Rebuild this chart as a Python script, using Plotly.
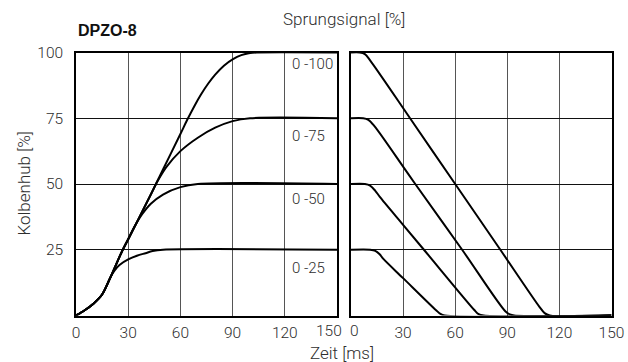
import plotly.graph_objects as go

# ---- data ----
rise_100_t = [0, 5, 10, 15, 20, 26.5, 30, 43, 50, 60, 64, 68, 72, 76, 80, 85, 90, 95, 100, 104, 150]
rise_100_y = [0, 2, 4.5, 8, 14.8, 24.5, 29, 46, 55.5, 69, 74.5, 79.6, 84.2, 88.2, 91.6, 95, 97.4, 99, 99.8, 100, 100]

rise_75_t = [0, 5, 10, 15, 20, 26.5, 30, 43, 47, 52, 60, 70, 80, 90, 100, 150]
rise_75_y = [0, 2, 4.5, 8, 14.8, 24.5, 29, 46, 51.2, 56.5, 62.5, 67.6, 71.4, 73.9, 75, 75]

rise_50_t = [0, 5, 10, 15, 20, 26.5, 30, 34, 38, 43, 50, 60, 70, 150]
rise_50_y = [0, 2, 4.5, 8, 14.8, 24.5, 29, 34.2, 38.5, 42.5, 46, 48.8, 50, 50]

rise_25_t = [0, 5, 10, 15, 19.5, 22, 25, 30, 35, 40, 44, 50, 150]
rise_25_y = [0, 2, 4.5, 8, 14.2, 17, 19.2, 21.3, 22.7, 23.7, 24.5, 25, 25]

fall_100_t = [0, 5, 8, 11, 34, 60, 86, 108.5, 111.5, 114.5, 150]
fall_100_y = [100, 100, 99.4, 97, 75, 50, 25, 3.3, 0.9, 0, 0]

fall_75_t = [0, 7, 10, 13.5, 30, 37, 64, 89, 91.5, 94, 150]
fall_75_y = [75, 75, 74.4, 72, 56.6, 50, 25, 1.5, 0.4, 0, 0]

fall_50_t = [0, 8, 11, 14, 16.6, 30, 42, 71, 73.5, 76.5, 150]
fall_50_y = [50, 50, 49.4, 47.4, 45.1, 34.5, 25, 2.1, 0.5, 0, 0]

fall_25_t = [0, 11, 14, 16.5, 18.5, 30, 49, 51.5, 54, 150]
fall_25_y = [25, 25, 24.6, 23.3, 21.6, 14.2, 2, 0.6, 0, 0]

x_ticks = [0, 30, 60, 90, 120, 150]
y_ticks = [25, 50, 75, 100]
step_labels = ["0 -100", "0 -75", "0 -50", "0 -25"]
step_label_y = [95.6, 68.2, 44.2, 17.9]

FONT = "Roboto, Liberation Sans, Arial, sans-serif"
TXT = "#2e2e2e"
WT = 300

fig = go.Figure()
line = dict(color="black", width=2, shape="spline", smoothing=0.9)
for t, y in [(rise_100_t, rise_100_y), (rise_75_t, rise_75_y),
             (rise_50_t, rise_50_y), (rise_25_t, rise_25_y)]:
    fig.add_trace(go.Scatter(x=t, y=y, mode="lines", line=line,
                             xaxis="x", yaxis="y", showlegend=False, hoverinfo="skip"))
for t, y in [(fall_100_t, fall_100_y), (fall_75_t, fall_75_y),
             (fall_50_t, fall_50_y), (fall_25_t, fall_25_y)]:
    fig.add_trace(go.Scatter(x=t, y=y, mode="lines", line=line,
                             xaxis="x2", yaxis="y2", showlegend=False, hoverinfo="skip"))

W, H = 628, 362
ydom = [(H - 315.5) / H, (H - 52.5) / H]

# the two crowded labels at the joint ("150 0") are placed as annotations
left_ticktext = [str(v) for v in x_ticks]
left_ticktext[-1] = ""
right_ticktext = [str(v) for v in x_ticks]
right_ticktext[0] = ""

tickfont = dict(family=FONT, size=15.5, color=TXT, weight=WT)
common_x = dict(range=[0, 150], tickvals=x_ticks, showgrid=True, gridcolor="#555",
                gridwidth=1, zeroline=False, showline=True, linecolor="black",
                linewidth=1.5, mirror=True, ticks="", ticklabelstandoff=2,
                automargin=False, tickfont=tickfont, fixedrange=True)
common_y = dict(range=[0, 100], tickvals=y_ticks, showgrid=True, gridcolor="#111",
                gridwidth=1, zeroline=False, showline=True, linecolor="black",
                linewidth=1.5, mirror=True, ticks="", ticklabelstandoff=8,
                automargin=False, tickfont=tickfont, fixedrange=True)

fig.update_layout(
    width=W, height=H, margin=dict(l=0, r=0, t=0, b=0, pad=0), autosize=False,
    paper_bgcolor="white", plot_bgcolor="white",
    xaxis=dict(common_x, domain=[76 / W, 337 / W], ticktext=left_ticktext, anchor="y"),
    xaxis2=dict(common_x, domain=[351 / W, 611.5 / W], ticktext=right_ticktext, anchor="y2"),
    yaxis=dict(common_y, domain=ydom, anchor="x"),
    yaxis2=dict(common_y, domain=ydom, anchor="x2", showticklabels=False),
)

ann = []
for txt, yv in zip(step_labels, step_label_y):
    ann.append(dict(x=123, y=yv, xref="x", yref="y", text=txt, showarrow=False,
                    xanchor="left", yanchor="middle",
                    font=dict(family=FONT, size=15, color=TXT, weight=WT)))
# joint tick labels
ann.append(dict(x=328.7 / W, y=(H - 331) / H, xref="paper", yref="paper",
                text=str(x_ticks[-1]), showarrow=False, xanchor="center", yanchor="middle",
                font=tickfont))
ann.append(dict(x=354 / W, y=(H - 331) / H, xref="paper", yref="paper",
                text=str(x_ticks[0]), showarrow=False, xanchor="center", yanchor="middle",
                font=tickfont))
ann.append(dict(x=76 / W, y=(H - 31) / H, xref="paper", yref="paper", text="<b>DPZO-8</b>",
                showarrow=False, xanchor="left", yanchor="middle",
                font=dict(family="Liberation Sans, Arial, sans-serif", size=16, color="#111")))
ann.append(dict(x=344 / W, y=(H - 19) / H, xref="paper", yref="paper", text="Sprungsignal [%]",
                showarrow=False, xanchor="center", yanchor="middle",
                font=dict(family=FONT, size=17, color=TXT, weight=WT)))
ann.append(dict(x=342 / W, y=(H - 353) / H, xref="paper", yref="paper", text="Zeit [ms]",
                showarrow=False, xanchor="center", yanchor="middle",
                font=dict(family=FONT, size=17, color=TXT, weight=WT)))
ann.append(dict(x=23.5 / W, y=(H - 184) / H, xref="paper", yref="paper", text="Kolbenhub [%]",
                showarrow=False, xanchor="center", yanchor="middle", textangle=-90,
                font=dict(family=FONT, size=17, color=TXT, weight=WT)))
fig.update_layout(annotations=ann)

fig.write_html("out.html")
